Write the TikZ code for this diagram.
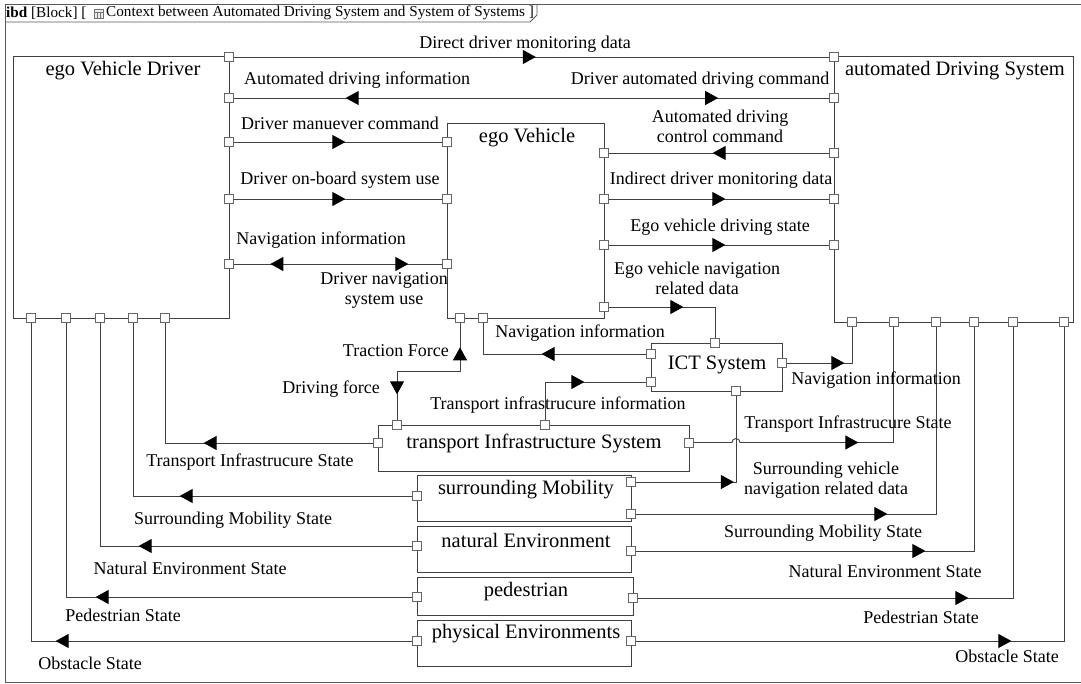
\documentclass[tikz,border=0pt]{standalone}
\usepackage{fontspec}
\setmainfont{Liberation Serif}
\usetikzlibrary{arrows.meta,decorations.markings}
\tikzset{
 ln/.style={draw=black!75, line width=0.9pt},
 frm/.style={draw=black!65, line width=0.9pt},
 box/.style={draw=black!75, line width=0.9pt, rectangle, inner sep=0pt, anchor=north west},
 port/.style={draw=black!60, fill=white, line width=0.7pt, rectangle, minimum size=9pt, inner sep=0pt},
 lbl/.style={font=\fontsize{18}{20}\selectfont, inner sep=0pt, align=center},
 bname/.style={font=\fontsize{20.5}{22}\selectfont, inner sep=0pt},
 fw/.style={postaction={decorate,decoration={markings,mark=at position #1 with {\arrow{Triangle[length=13pt,width=14pt,color=black]}}}}},
 bw/.style={postaction={decorate,decoration={markings,mark=at position #1 with {\arrowreversed{Triangle[length=13pt,width=14pt,color=black]}}}}},
}
\begin{document}
\begin{tikzpicture}[x=1pt,y=-1pt]
\useasboundingbox (0,0) rectangle (1081,684);
% frame
\draw[frm] (1081,4) -- (5,4) -- (5,682) -- (1081,682);
\draw[frm] (5,22) -- (530,22) -- (537,15) -- (537,4);
\node[anchor=west, font=\fontsize{15.2}{17}\selectfont, inner sep=0pt] (ttl0) at (6,13) {\textbf{ibd} [Block] [};
\draw[black!55, fill=black!8, line width=0.4pt] (94,9) rectangle (103,18);
\draw[black!55, line width=0.4pt] (94,12) -- (103,12) (97,12) -- (97,18) (100,12) -- (100,18);
\node[anchor=west, font=\fontsize{15.2}{17}\selectfont, inner sep=0pt] (ttl1) at (106,13) {Context between Automated Driving System and System of Systems ]};

% boxes
\node[box, minimum width=216pt, minimum height=262pt] (drv) at (13,56) {};
\node[box, minimum width=239pt, minimum height=266pt] (ads) at (834,56) {};
\node[box, minimum width=157pt, minimum height=195pt] (ev) at (447,123) {};
\node[box, minimum width=131pt, minimum height=48pt] (ict) at (651,343) {};
\node[box, minimum width=311pt, minimum height=46pt] (tis) at (378,425) {};
\node[box, minimum width=214pt, minimum height=46pt] (smb) at (417,475) {};
\node[box, minimum width=214pt, minimum height=46pt] (nev) at (417,526) {};
\node[box, minimum width=216pt, minimum height=38pt] (ped) at (417,577) {};
\node[box, minimum width=214pt, minimum height=46pt] (phy) at (417,620) {};

\node[bname] (ndrv) at (123,71) {ego Vehicle Driver};
\node[bname] (nads) at (955,71) {automated Driving System};
\node[bname] (nevh) at (527,138) {ego Vehicle};
\node[bname] (nict) at (717,365) {ICT System};
\node[bname] (ntis) at (534,443) {transport Infrastructure System};
\node[bname] (nsmb) at (526,490) {surrounding Mobility};
\node[bname] (nnev) at (526,540) {natural Environment};
\node[bname] (nped) at (526,592) {pedestrian};
\node[bname] (nphy) at (526,634) {physical Environments};

% ports
\node[port] (d1) at (229,57) {};
\node[port] (d2) at (229,98) {};
\node[port] (d3) at (229,142) {};
\node[port] (d4) at (229,199) {};
\node[port] (d5) at (229,264) {};
\node[port] (db1) at (31,318) {};
\node[port] (db2) at (66,318) {};
\node[port] (db3) at (100,318) {};
\node[port] (db4) at (133,318) {};
\node[port] (db5) at (165,318) {};
\node[port] (e1) at (447,142) {};
\node[port] (e2) at (447,199) {};
\node[port] (e3) at (447,264) {};
\node[port] (e4) at (604,153) {};
\node[port] (e5) at (604,199) {};
\node[port] (e6) at (604,245) {};
\node[port] (e7) at (604,307) {};
\node[port] (e8) at (460,318) {};
\node[port] (e9) at (483,318) {};
\node[port] (a1) at (834,57) {};
\node[port] (a2) at (834,98) {};
\node[port] (a3) at (834,153) {};
\node[port] (a4) at (834,199) {};
\node[port] (a5) at (834,245) {};
\node[port] (a6) at (852,322) {};
\node[port] (a7) at (893.5,322) {};
\node[port] (a8) at (936,322) {};
\node[port] (a9) at (974,322) {};
\node[port] (a10) at (1013,322) {};
\node[port] (a11) at (1064,322) {};
\node[port] (i1) at (715,343) {};
\node[port] (i2) at (651,354) {};
\node[port] (i3) at (651,382) {};
\node[port] (i4) at (782,363) {};
\node[port] (i5) at (736,391) {};
\node[port] (t1) at (378,443) {};
\node[port] (t2) at (397,425) {};
\node[port] (t3) at (545,425) {};
\node[port] (t4) at (689,442.5) {};
\node[port] (s1) at (417,496) {};
\node[port] (s2) at (631,482) {};
\node[port] (s3) at (631,514) {};
\node[port] (n1) at (417,546) {};
\node[port] (n2) at (631,551) {};
\node[port] (p1) at (417,597) {};
\node[port] (p2) at (633,598) {};
\node[port] (f1) at (417,641) {};
\node[port] (f2) at (631,641) {};

% straight connectors
\draw[ln, fw=302pt] (d1.east) -- (a1.west);
\draw[ln, fw=483.5pt, bw=111pt] (a2.west) -- (d2.east);
\draw[ln, fw=111.5pt] (d3.east) -- (e1.west);
\draw[ln, fw=111.5pt] (d4.east) -- (e2.west);
\draw[ln, fw=174.5pt, bw=36.5pt] (d5.east) -- (e3.west);
\draw[ln, fw=116.5pt] (a3.west) -- (e4.east);
\draw[ln, fw=116.5pt] (e5.east) -- (a4.west);
\draw[ln, fw=116.5pt] (e6.east) -- (a5.west);

% elbow connectors
\draw[ln, fw=74.5pt] (e7.east) -| (i1.north);
\draw[ln, fw=104.5pt] (i2.west) -| (e9.south);
\draw[ln, fw=77.5pt] (t3.north) |- (i3.west);
\draw[ln, bw=24.5pt, fw=134.5pt] (e8.south) -- (460,371) -| (t2.north);
\draw[ln, fw=57.5pt] (i4.east) -| (a6.south);
\draw[ln, fw=98pt] (s2.east) -| (i5.south);
\draw[ln, fw=169pt] (t4.east) -- (732,442.5) arc[start angle=180, end angle=360, radius=4] -| (a7.south);
\draw[ln, fw=251.5pt] (s3.east) -| (a8.south);
\draw[ln, fw=289.5pt] (n2.east) -| (a9.south);
\draw[ln, fw=330.5pt] (p2.east) -| (a10.south);
\draw[ln, fw=375.5pt] (f2.east) -| (a11.south);
\draw[ln, fw=169.5pt] (t1.west) -| (db5.south);
\draw[ln, fw=232.5pt] (s1.west) -| (db4.south);
\draw[ln, fw=273.5pt] (n1.west) -| (db3.south);
\draw[ln, fw=316.5pt] (p1.west) -| (db2.south);
\draw[ln, fw=356.5pt] (f1.west) -| (db1.south);

% labels
\node[lbl] (l1) at (525,44) {Direct driver monitoring data};
\node[lbl] (l2) at (357,80) {Automated driving information};
\node[lbl] (l3) at (700,80) {Driver automated driving command};
\node[lbl] (l4) at (340,123) {Driver manuever command};
\node[lbl] (l5) at (340,180) {Driver on-board system use};
\node[lbl] (l6) at (321,240) {Navigation information};
\node[lbl] (l7) at (384,290) {Driver navigation\\system use};
\node[lbl] (l8) at (720,126) {Automated driving\\control command};
\node[lbl] (l9) at (721,180) {Indirect driver monitoring data};
\node[lbl] (l10) at (720,227) {Ego vehicle driving state};
\node[lbl] (l11) at (697,278) {Ego vehicle navigation\\related data};
\node[lbl] (l12) at (580,333) {Navigation information};
\node[lbl] (l13) at (558,405) {Transport infrastrucure information};
\node[lbl, anchor=east] (l14) at (449,351) {Traction Force};
\node[lbl] (l15) at (331,389) {Driving force};
\node[lbl] (l16) at (876,380) {Navigation information};
\node[lbl] (l17) at (848,424) {Transport Infrastrucure State};
\node[lbl] (l18) at (826,480) {Surrounding vehicle\\navigation related data};
\node[lbl] (l19) at (823,533) {Surrounding Mobility State};
\node[lbl] (l20) at (885,571) {Natural Environment State};
\node[lbl] (l21) at (921,617) {Pedestrian State};
\node[lbl] (l22) at (1007,656) {Obstacle State};
\node[lbl] (l23) at (250,462) {Transport Infrastrucure State};
\node[lbl] (l24) at (233,520) {Surrounding Mobility State};
\node[lbl] (l25) at (190,568) {Natural Environment State};
\node[lbl] (l26) at (123,615) {Pedestrian State};
\node[lbl] (l27) at (90,663) {Obstacle State};
\end{tikzpicture}
\end{document}
